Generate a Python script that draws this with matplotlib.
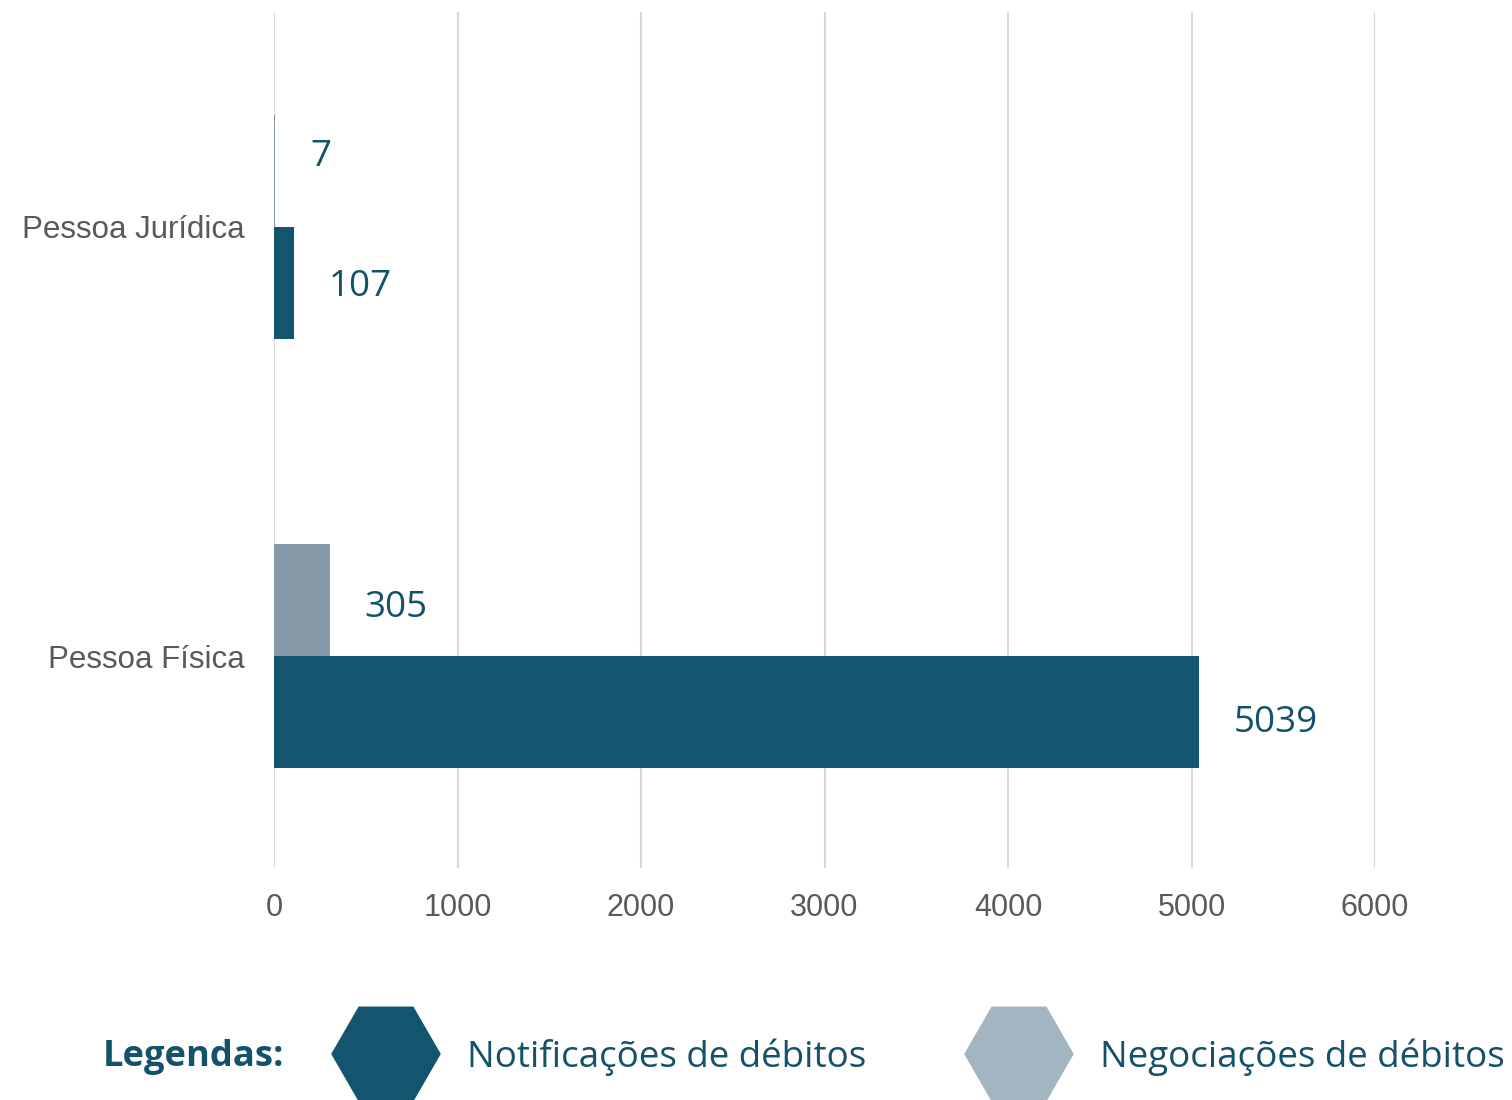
import numpy as np
import matplotlib
matplotlib.use("Agg")
import matplotlib.pyplot as plt
from matplotlib.patches import RegularPolygon

# dados
categorias = ["Pessoa Física", "Pessoa Jurídica"]
notificacoes = [5039, 107]
negociacoes = [305, 7]
xticks = [0, 1000, 2000, 3000, 4000, 5000, 6000]

cor_escura = "#13546f"
cor_cinza = "#8899aa"
cor_cinza_leg = "#a3b5c0"
cor_texto = "#14516a"

fig = plt.figure(figsize=(15.12, 11), dpi=100)
ax = fig.add_axes([274 / 1512, 1 - 868 / 1100, (1375 - 274) / 1512, (868 - 12) / 1100])

y = np.arange(len(categorias))
h = 0.261
b1 = ax.barh(y - h / 2, notificacoes, height=h, color=cor_escura, zorder=3)
b2 = ax.barh(y + h / 2, negociacoes, height=h, color=cor_cinza, zorder=3)

# deslocamento vertical dos rótulos (pontos), igual ao original
desloc = [-8, -3, -6, 10]
for rect, v, dy in zip(list(b1) + list(b2), notificacoes + negociacoes, desloc):
    ax.annotate(str(v), (rect.get_width(), rect.get_y() + rect.get_height() / 2),
                xytext=(25, dy), textcoords="offset points", ha="left", va="center",
                fontsize=26.5, color=cor_texto, family="Open Sans")

ax.set_xlim(0, 6000)
ax.set_ylim(-0.494, 1.501)
ax.set_xticks(xticks)
ax.set_xticklabels([str(t) for t in xticks])
ax.set_yticks(y)
ax.set_yticklabels(categorias)
ax.tick_params(axis="x", length=0, pad=18, labelsize=22, labelcolor="#595959")
ax.tick_params(axis="y", length=0, pad=21, labelsize=22.5, labelcolor="#595959")
for lab in ax.get_xticklabels() + ax.get_yticklabels():
    lab.set_family("Liberation Sans")
ax.grid(axis="x", color="#d9d9d9", linewidth=1.5, zorder=0)
for s in ax.spines.values():
    s.set_visible(False)

# legenda
lax = fig.add_axes([0, 0, 1, 132 / 1100])
lax.set_xlim(0, 1512)
lax.set_ylim(1100, 968)
lax.axis("off")
lax.text(103, 1057, "Legendas:", fontsize=26.2, fontweight="bold", color=cor_texto,
         family="Open Sans", ha="left", va="center")
lax.add_patch(RegularPolygon((386, 1054), 6, radius=54, orientation=np.pi / 6,
                             color=cor_escura, clip_on=False))
lax.text(467, 1057, "Notificações de débitos", fontsize=26.5, color=cor_texto,
         family="Open Sans", ha="left", va="center")
lax.add_patch(RegularPolygon((1019, 1054), 6, radius=54, orientation=np.pi / 6,
                             color=cor_cinza_leg, clip_on=False))
lax.text(1100, 1057, "Negociações de débitos", fontsize=26.5, color=cor_texto,
         family="Open Sans", ha="left", va="center")

fig.savefig("out.png", dpi=100)
